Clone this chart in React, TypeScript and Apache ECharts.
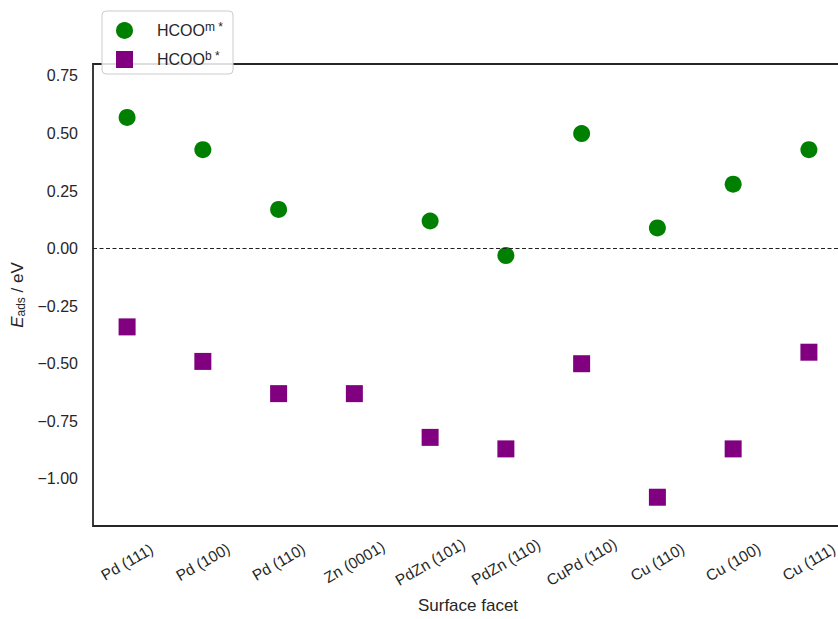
import React, { useEffect, useRef } from "react";
import * as echarts from "echarts";

const categories = [
  "Pd (111)",
  "Pd (100)",
  "Pd (110)",
  "Zn (0001)",
  "PdZn (101)",
  "PdZn (110)",
  "CuPd (110)",
  "Cu (110)",
  "Cu (100)",
  "Cu (111)",
];
const hcooM: (number | null)[] = [0.57, 0.43, 0.17, null, 0.12, -0.03, 0.5, 0.09, 0.28, 0.43];
const hcooB: number[] = [-0.34, -0.49, -0.63, -0.63, -0.82, -0.87, -0.5, -1.08, -0.87, -0.45];
const yTicks = [-1.0, -0.75, -0.5, -0.25, 0, 0.25, 0.5, 0.75];

const FONT = "'Liberation Sans', Arial, sans-serif";
const TXT = "#262626";

export default function App() {
  const ref = useRef<HTMLDivElement>(null);
  useEffect(() => {
    if (!ref.current) return;
    const chart = echarts.init(ref.current, null, { renderer: "svg" });
    const mData = hcooM
      .map((v, i) => (v === null ? null : [i, v]))
      .filter((d) => d !== null);
    const bData = hcooB.map((v, i) => [i, v]);
    chart.setOption({
      animation: false,
      backgroundColor: "#ffffff",
      textStyle: { fontFamily: FONT },
      grid: {
        left: 93,
        top: 64,
        right: 2,
        bottom: 92,
        show: true,
        borderColor: TXT,
        borderWidth: 1.8,
        backgroundColor: "transparent",
      },
      legend: {
        orient: "vertical",
        left: 102,
        top: 11,
        z: 10,
        padding: [10, 10, 6, 14],
        itemWidth: 17,
        itemHeight: 17,
        itemGap: 11,
        backgroundColor: "rgba(255,255,255,0.85)",
        borderColor: "#cccccc",
        borderWidth: 1,
        borderRadius: 4,
        data: [
          { name: "HCOOm*", icon: "circle" },
          { name: "HCOOb*", icon: "rect" },
        ],
        formatter: (name: string) =>
          name === "HCOOm*" ? "{a|HCOO}{s|m *}" : "{a|HCOO}{s|b *}",
        textStyle: {
          fontFamily: FONT,
          color: TXT,
          fontSize: 16,
          rich: {
            a: { fontFamily: FONT, fontSize: 16, color: TXT, padding: [0, 0, 0, 19] },
            s: { fontFamily: FONT, fontSize: 12, color: TXT, verticalAlign: "top", padding: [0, 0, 7, 0] },
          },
        },
      },
      xAxis: {
        type: "value",
        min: -0.45,
        max: 9.45,
        name: "Surface facet",
        nameLocation: "middle",
        nameGap: 71,
        nameTextStyle: { fontFamily: FONT, fontSize: 17, color: TXT },
        axisLine: { show: false },
        axisTick: { show: false },
        splitLine: { show: false },
        axisLabel: {
          customValues: categories.map((_, i) => i),
          formatter: (v: number) => categories[Math.round(v)] ?? "",
          rotate: 30,
          align: "center",
          verticalAlign: "middle",
          margin: 36,
          fontFamily: FONT,
          fontSize: 15.5,
          color: TXT,
        },
      },
      yAxis: {
        type: "value",
        min: -1.205,
        max: 0.802,
        name: "{i|E}{sub|ads}{n| / eV}",
        nameLocation: "middle",
        nameGap: 66,
        nameTextStyle: {
          fontFamily: FONT,
          fontSize: 17,
          color: TXT,
          rich: {
            i: { fontFamily: FONT, fontSize: 17, fontStyle: "italic", color: TXT },
            sub: { fontFamily: FONT, fontSize: 12, color: TXT, verticalAlign: "bottom", padding: [6, 0, 0, 0] },
            n: { fontFamily: FONT, fontSize: 17, color: TXT },
          },
        },
        axisLine: { show: false },
        axisTick: { show: false },
        splitLine: { show: false },
        axisLabel: {
          customValues: yTicks,
          formatter: (v: number) => v.toFixed(2).replace("-", "\u2212"),
          margin: 15,
          fontFamily: FONT,
          fontSize: 16,
          color: TXT,
        },
      },
      series: [
        {
          name: "HCOOm*",
          type: "scatter",
          symbol: "circle",
          symbolSize: 17,
          itemStyle: { color: "#008000", opacity: 1 },
          data: mData,
          z: 3,
          markLine: {
            silent: true,
            symbol: "none",
            label: { show: false },
            lineStyle: { color: "#222222", width: 1.2, type: [4, 2.5] },
            data: [{ yAxis: 0 }],
          },
        },
        {
          name: "HCOOb*",
          type: "scatter",
          symbol: "rect",
          symbolSize: 17,
          itemStyle: { color: "#800080", opacity: 1 },
          data: bData,
          z: 3,
        },
      ],
    });
    return () => chart.dispose();
  }, []);
  return (
    <div
      style={{
        position: "absolute",
        left: 0,
        top: 0,
        width: 838,
        height: 619,
        overflow: "hidden",
      }}
    >
      <div ref={ref} style={{ width: 845, height: 619 }} />
    </div>
  );
}
